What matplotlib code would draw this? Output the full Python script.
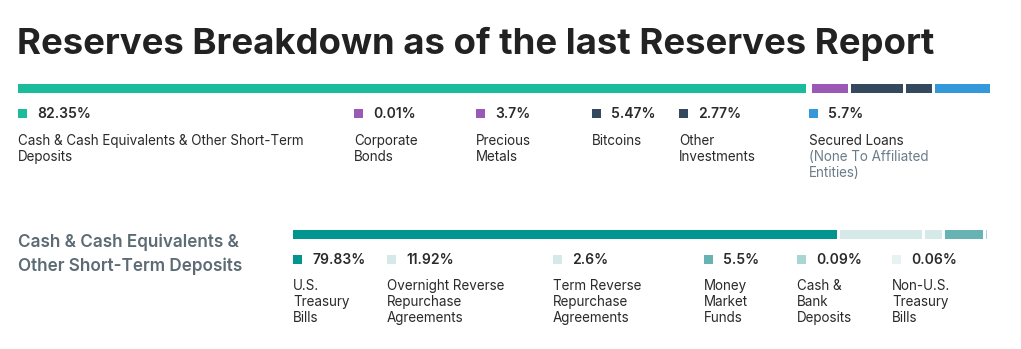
import matplotlib.pyplot as plt
from matplotlib.patches import Rectangle

plt.rcParams['font.family'] = ['Inter', 'DejaVu Sans']

# figure size in pixels
W, H = 1021, 349

# top breakdown
reserve_labels = ['Cash & Cash Equivalents & Other Short-Term\nDeposits',
                  'Corporate\nBonds', 'Precious\nMetals', 'Bitcoins',
                  'Other\nInvestments', 'Secured Loans']
reserve_notes = ['', '', '', '', '', '(None To Affiliated\nEntities)']
reserve_values = [82.35, 0.01, 3.7, 5.47, 2.77, 5.7]
reserve_pct = ['82.35%', '0.01%', '3.7%', '5.47%', '2.77%', '5.7%']
reserve_colors = ['#1abc9c', '#9b59b6', '#9b59b6', '#34495e', '#34495e', '#3498db']

# cash & cash equivalents breakdown
cash_title = 'Cash & Cash Equivalents &\nOther Short-Term Deposits'
cash_labels = ['U.S.\nTreasury\nBills', 'Overnight Reverse\nRepurchase\nAgreements',
               'Term Reverse\nRepurchase\nAgreements', 'Money\nMarket\nFunds',
               'Cash &\nBank\nDeposits', 'Non-U.S.\nTreasury\nBills']
cash_values = [79.83, 11.92, 2.6, 5.5, 0.09, 0.06]
cash_pct = ['79.83%', '11.92%', '2.6%', '5.5%', '0.09%', '0.06%']
cash_colors = ['#00968f', '#d4e9e8', '#d4e9e8', '#67b3b3', '#a9d5d3', '#e7f3f3']

TEXT = '#2a2a2a'
NOTE = '#6b7c8a'


def fx(x):
    return x / W


def fy(y):
    return 1 - y / H


def seg_bar(fig, x0, x1, y0, y1, values, colors, gap_px=3):
    """stacked horizontal bar, fixed gaps, pieces share the rest of the width"""
    length = x1 - x0
    ax = fig.add_axes([fx(x0), fy(y1), length / W, (y1 - y0) / H])
    gap = gap_px / length * 100
    f = (length - gap_px * (len(values) - 1)) / length
    lefts, widths = [], []
    cum = 0
    for i, v in enumerate(values):
        lefts.append(cum * f + i * gap)
        widths.append(v * f)
        cum += v
    ax.barh(0, widths, left=lefts, height=1, color=colors, linewidth=0)
    ax.set_xlim(0, 100)
    ax.set_ylim(-0.5, 0.5)
    ax.axis('off')


def multiline(fig, x, y, text, step, **kw):
    for i, line in enumerate(text.split('\n')):
        fig.text(fx(x), fy(y + i * step), line, va='center', ha='left', **kw)
    return len(text.split('\n'))


def legend(fig, xs, y_mark, y_label, pcts, colors, labels, notes=None):
    for i, x in enumerate(xs):
        fig.add_artist(Rectangle((fx(x), fy(y_mark + 4.5)), 9 / W, 9 / H,
                                 transform=fig.transFigure, color=colors[i], lw=0))
        fig.text(fx(x + 19), fy(y_mark + 1), pcts[i], va='center', ha='left',
                 fontsize=10, fontweight='semibold', color=TEXT)
        n = multiline(fig, x, y_label, labels[i], 16, fontsize=9.7, color=TEXT)
        if notes and notes[i]:
            multiline(fig, x, y_label + n * 16, notes[i], 16, fontsize=9.7, color=NOTE)


fig = plt.figure(figsize=(W / 100, H / 100), dpi=100)
fig.patch.set_facecolor('white')

fig.text(fx(17), fy(44), 'Reserves Breakdown as of the last Reserves Report',
         va='center', ha='left', fontsize=26.3, fontweight='bold', color='#222222')

seg_bar(fig, 18, 990, 84, 93, reserve_values, reserve_colors)
legend(fig, [18, 354, 476, 592, 679, 809], 113, 141,
       reserve_pct, reserve_colors, reserve_labels, reserve_notes)

multiline(fig, 18, 242, cash_title, 24, fontsize=12.3, fontweight='semibold', color='#5c6b74')
seg_bar(fig, 293, 990, 230, 239, cash_values, cash_colors)
legend(fig, [293, 387, 553, 704, 797, 892], 259, 286,
       cash_pct, cash_colors, cash_labels)

fig.savefig('out.png', dpi=100, facecolor='white')
